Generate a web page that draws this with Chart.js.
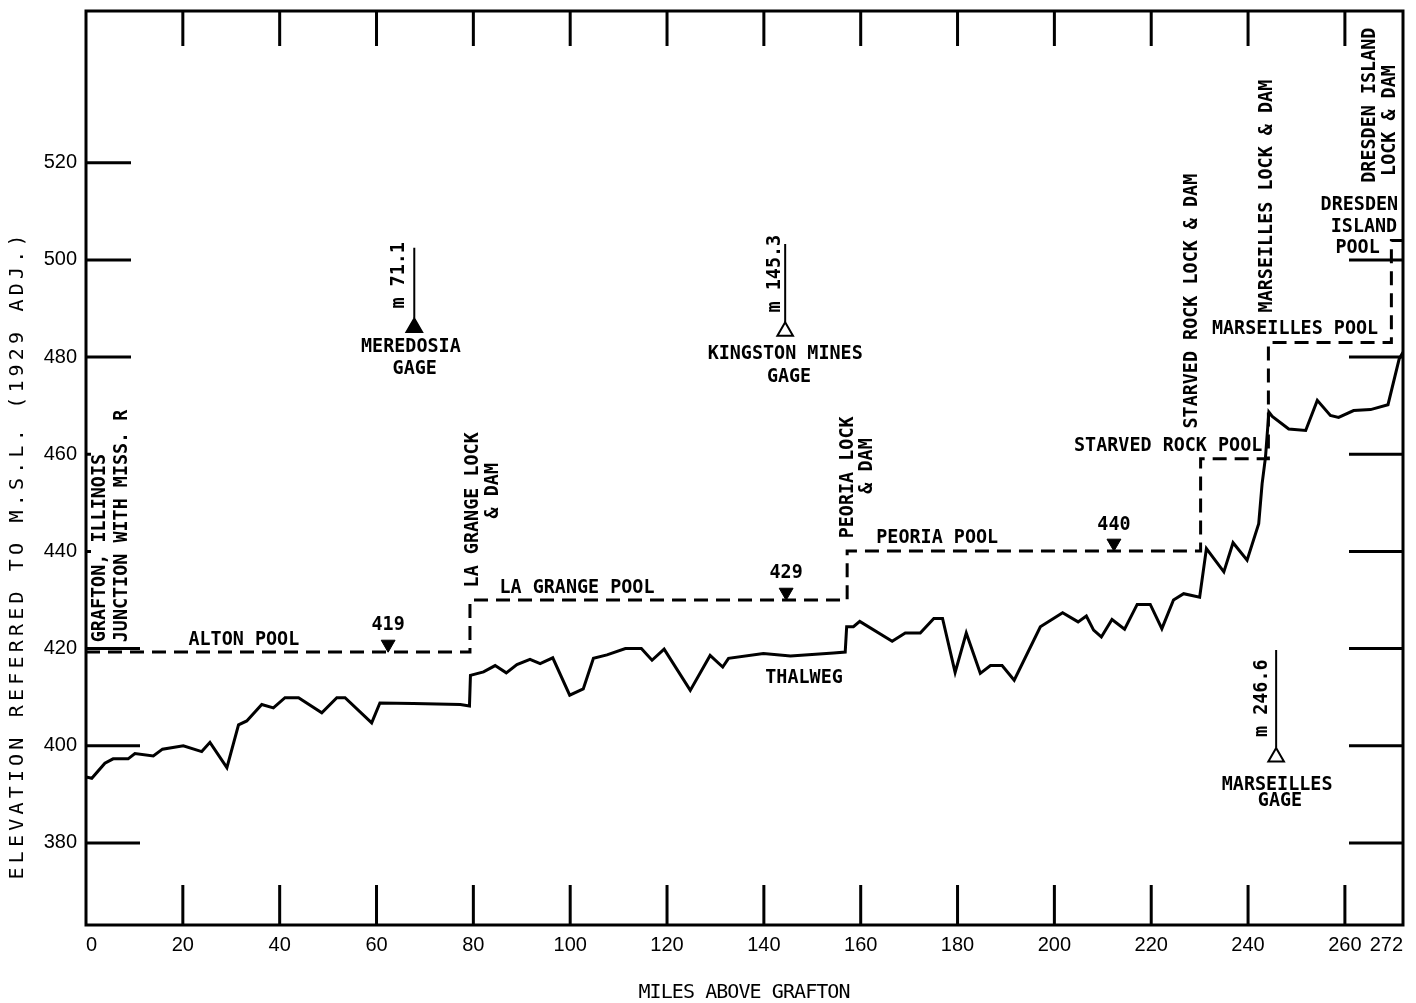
<!DOCTYPE html>
<html>
<head>
<meta charset="utf-8">
<script src="https://cdn.jsdelivr.net/npm/chart.js@4/dist/chart.umd.min.js"></script>
<style>
    html, body { margin: 0; padding: 0; background: #fff; }
    canvas { display: block; }
</style>
</head>
<body>
<canvas id="profile" width="1416" height="1003"></canvas>
<script>
// Illinois Waterway profile: thalweg and pool levels, miles above Grafton

const thalwegMiles = [
    0, 1.2, 3.9, 5.6, 8.7, 10.1, 13.9, 15.8, 20.1, 23.9, 25.6, 29.1, 31.5, 33.2, 36.3, 38.7,
    41.1, 43.9, 48.7, 51.8, 53.5, 59.0, 60.7, 67.6, 77.3, 79.2, 79.4, 82.1, 84.5, 86.8, 89.0,
    91.7, 93.8, 96.4, 99.9, 102.7, 104.8, 107.6, 111.4, 114.7, 116.9, 119.4, 124.8, 128.9,
    131.5, 132.7, 139.9, 145.5, 154.4, 156.8, 157.1, 158.5, 159.8, 166.5, 169.2, 172.3, 175.1,
    176.9, 179.5, 181.8, 184.7, 186.8, 189.2, 191.7, 197.1, 201.7, 204.9, 206.6, 208.1, 209.7,
    211.9, 214.5, 217.1, 219.8, 222.2, 224.6, 226.7, 230.0, 231.4, 235.0, 236.9, 239.8, 242.2,
    242.9, 243.6, 244.3, 245.0, 248.4, 251.9, 254.3, 257.0, 258.7, 261.8, 265.3, 268.9, 271.2, 272,
];
const thalwegElev = [
    393.6, 393.3, 396.4, 397.3, 397.3, 398.4, 397.9, 399.3, 400.0, 398.8, 400.7, 395.5, 404.3, 405.1, 408.5, 407.8,
    409.9, 409.9, 406.8, 409.9, 409.9, 404.7, 408.8, 408.7, 408.5, 408.2, 414.5, 415.2, 416.5, 415.0, 416.7,
    417.8, 416.9, 418.1, 410.4, 411.7, 418.0, 418.7, 420.0, 420.0, 417.6, 419.9, 411.4, 418.6,
    416.2, 418.0, 419.0, 418.5, 419.1, 419.3, 424.5, 424.5, 425.6, 421.5, 423.2, 423.2, 426.2,
    426.2, 415.1, 423.2, 414.9, 416.5, 416.5, 413.5, 424.5, 427.4, 425.5, 426.7, 423.8, 422.4,
    426.0, 424.0, 429.1, 429.1, 424.1, 430.0, 431.3, 430.6, 440.6, 435.8, 441.8, 438.2, 445.7,
    453.9, 459.4, 468.7, 467.8, 465.2, 464.9, 471.1, 468.0, 467.6, 469.0, 469.2, 470.2, 479.6, 481.0,
];

// pool stair-step (dashed)
const poolMiles = [0, 79.3, 79.3, 157.2, 157.2, 230.2, 230.2, 244.2, 244.2, 269.6, 269.6, 272];
const poolElev = [419.3, 419.3, 430.0, 430.0, 440.1, 440.1, 459.1, 459.1, 483.0, 483.0, 504.0, 504.0];

// gages
const gageMiles = [67.8, 144.4, 245.8];
const gageElev = [486.1, 485.3, 397.7];
const gageStemBottom = [488.0, 487.2, 399.6];
const gageStemTop = [502.5, 503.3, 419.7];
const gageFilled = [true, false, false];

// pool stage symbols
const stageMiles = [62.4, 144.6, 212.3];
const stageElev = [420.9, 431.6, 441.7];

const xTickLabels = [0, 20, 40, 60, 80, 100, 120, 140, 160, 180, 200, 220, 240, 260, 272];
const yTickLabels = [380, 400, 420, 440, 460, 480, 500, 520];
const xTickMarks = [20, 40, 60, 80, 100, 120, 140, 160, 180, 200, 220, 240, 260];
const yTickMarksLeft = [380, 400, 420, 440, 460, 480, 500, 520];
const yTickMarksRight = [380, 400, 420, 440, 460, 480, 500];

// [text, mile, elevation, align]
const flatLabels = [
    ['ALTON POOL', 32.6, 421.9, 'center'],
    ['LA GRANGE POOL', 101.4, 432.6, 'center'],
    ['PEORIA POOL', 175.8, 442.9, 'center'],
    ['STARVED ROCK POOL', 223.5, 461.8, 'center'],
    ['MARSEILLES POOL', 249.7, 485.9, 'center'],
    ['DRESDEN', 271.0, 511.4, 'right'],
    ['ISLAND', 270.8, 506.8, 'right'],
    ['POOL', 267.2, 502.5, 'right'],
    ['THALWEG', 148.3, 413.9, 'center'],
    ['MEREDOSIA', 67.1, 482.2, 'center'],
    ['GAGE', 67.9, 477.6, 'center'],
    ['KINGSTON MINES', 144.4, 480.7, 'center'],
    ['GAGE', 145.2, 476.0, 'center'],
    ['MARSEILLES', 246.0, 392.0, 'center'],
    ['GAGE', 246.6, 388.6, 'center'],
    ['419', 62.4, 424.8, 'center'],
    ['429', 144.6, 435.5, 'center'],
    ['440', 212.3, 445.4, 'center'],
];

// [text, mile, elevation at start of text] read bottom to top
const upLabels = [
    ['GRAFTON, ILLINOIS', 2.9, 421.3],
    ['JUNCTION WITH MISS. R', 7.4, 421.3],
    ['LA GRANGE LOCK', 79.9, 432.6],
    ['& DAM', 84.1, 446.8],
    ['PEORIA LOCK', 157.4, 442.7],
    ['& DAM', 161.3, 451.9],
    ['STARVED ROCK LOCK & DAM', 228.4, 465.3],
    ['MARSEILLES LOCK & DAM', 243.9, 489.2],
    ['DRESDEN ISLAND', 265.2, 515.9],
    ['LOCK & DAM', 269.3, 517.3],
    ['m 71.1', 64.6, 490.0],
    ['m 145.3', 142.3, 489.2],
    ['m 246.6', 242.9, 401.8],
];

const X_TITLE = 'MILES ABOVE GRAFTON';
const Y_TITLE = 'ELEVATION REFERRED TO M.S.L. (1929 ADJ.)';

const LABEL_FONT = 'bold 20px "DejaVu Sans Mono"';
const TITLE_FONT = '20px "DejaVu Sans Mono"';
const TICK_FONT = { family: 'Liberation Sans', size: 20 };

function pairs(xs, ys) {
    return xs.map((x, i) => ({ x, y: ys[i] }));
}

function stems() {
    const out = [];
    gageMiles.forEach((m, i) => {
        out.push({ x: m, y: gageStemBottom[i] }, { x: m, y: gageStemTop[i] }, { x: m, y: null });
    });
    return out;
}

function drawText(ctx, text, x, y, align, up) {
    ctx.save();
    ctx.translate(x, y);
    if (up) ctx.rotate(-Math.PI / 2);
    ctx.scale(0.92, 1);
    ctx.textAlign = align;
    ctx.textBaseline = 'middle';
    ctx.fillText(text, 0, 0);
    ctx.restore();
}

// spread characters so the text fills a given length
function drawSpaced(ctx, text, cx, cy, length, up) {
    ctx.save();
    ctx.translate(cx, cy);
    if (up) ctx.rotate(-Math.PI / 2);
    ctx.textAlign = 'left';
    ctx.textBaseline = 'middle';
    const chars = [...text];
    const widths = chars.map((c) => ctx.measureText(c).width);
    const natural = widths.reduce((a, b) => a + b, 0);
    const gap = (length - natural) / (chars.length - 1);
    let pos = -length / 2;
    chars.forEach((c, i) => {
        ctx.fillText(c, pos, 0);
        pos += widths[i] + gap;
    });
    ctx.restore();
}

const annotations = {
    id: 'annotations',
    afterDraw(chart) {
        const { ctx, chartArea: area, scales: { x, y } } = chart;
        ctx.save();
        ctx.strokeStyle = '#000';
        ctx.fillStyle = '#000';
        ctx.lineWidth = 3;
        ctx.lineCap = 'butt';
        ctx.strokeRect(area.left, area.top, area.right - area.left, area.bottom - area.top);

        ctx.beginPath();
        xTickMarks.forEach((v) => {
            const px = x.getPixelForValue(v);
            ctx.moveTo(px, area.top);
            ctx.lineTo(px, area.top + 35);
            ctx.moveTo(px, area.bottom);
            ctx.lineTo(px, area.bottom - 40);
        });
        yTickMarksLeft.forEach((v) => {
            const py = y.getPixelForValue(v);
            const len = v >= 480 ? 45 : v <= 420 ? 54 : 5;
            ctx.moveTo(area.left, py);
            ctx.lineTo(area.left + len, py);
        });
        yTickMarksRight.forEach((v) => {
            const py = y.getPixelForValue(v);
            ctx.moveTo(area.right, py);
            ctx.lineTo(area.right - 54, py);
        });
        ctx.stroke();

        ctx.font = LABEL_FONT;
        flatLabels.forEach(([text, m, e, align]) => {
            drawText(ctx, text, x.getPixelForValue(m), y.getPixelForValue(e), align, false);
        });
        upLabels.forEach(([text, m, e]) => {
            drawText(ctx, text, x.getPixelForValue(m), y.getPixelForValue(e), 'left', true);
        });

        ctx.font = TITLE_FONT;
        drawSpaced(ctx, X_TITLE, (area.left + area.right) / 2, 993, 212, false);
        drawSpaced(ctx, Y_TITLE, 18, 557, 645, true);
        ctx.restore();
    },
};

new Chart(document.getElementById('profile'), {
    type: 'scatter',
    data: {
        datasets: [
            {
                label: 'Thalweg',
                data: pairs(thalwegMiles, thalwegElev),
                showLine: true,
                borderColor: '#000',
                borderWidth: 3,
                pointRadius: 0,
            },
            {
                label: 'Pool',
                data: pairs(poolMiles, poolElev),
                showLine: true,
                borderColor: '#000',
                borderWidth: 3,
                borderDash: [14, 8],
                pointRadius: 0,
            },
            {
                label: 'Gage stems',
                data: stems(),
                showLine: true,
                spanGaps: false,
                borderColor: '#000',
                borderWidth: 2,
                pointRadius: 0,
            },
            {
                label: 'Gages',
                data: pairs(gageMiles, gageElev),
                pointStyle: 'triangle',
                pointRadius: 9,
                backgroundColor: gageFilled.map((f) => (f ? '#000' : '#fff')),
                borderColor: '#000',
                borderWidth: 2,
            },
            {
                label: 'Pool stage',
                data: pairs(stageMiles, stageElev),
                pointStyle: 'triangle',
                rotation: 180,
                pointRadius: 8,
                backgroundColor: '#000',
                borderColor: '#000',
                borderWidth: 1,
            },
        ],
    },
    options: {
        responsive: false,
        animation: false,
        devicePixelRatio: 1,
        layout: { padding: { top: 10, right: 13, bottom: 0, left: 0 } },
        plugins: { legend: { display: false }, tooltip: { enabled: false } },
        scales: {
            x: {
                type: 'linear',
                min: 0,
                max: 272,
                grid: { display: false, drawTicks: false },
                border: { display: false },
                ticks: { font: TICK_FONT, color: '#000', padding: 8, align: 'inner', maxRotation: 0, autoSkip: false },
                afterBuildTicks: (s) => { s.ticks = xTickLabels.map((v) => ({ value: v })); },
                afterFit: (s) => { s.height = 78; s.paddingLeft = 0; s.paddingRight = 0; },
            },
            y: {
                type: 'linear',
                min: 363.1,
                max: 551.25,
                grid: { display: false, drawTicks: false },
                border: { display: false },
                ticks: { font: TICK_FONT, color: '#000', padding: 9, autoSkip: false },
                afterBuildTicks: (s) => { s.ticks = yTickLabels.map((v) => ({ value: v })); },
                afterFit: (s) => { s.width = 86; s.paddingTop = 0; s.paddingBottom = 0; },
            },
        },
    },
    plugins: [annotations],
});
</script>
</body>
</html>
